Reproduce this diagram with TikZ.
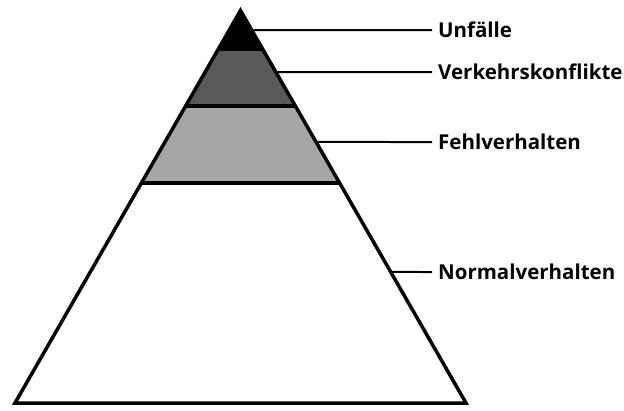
\documentclass[tikz,border=0pt]{standalone}
\usepackage{fontspec}
\setmainfont{Open Sans}
\usetikzlibrary{calc}
\definecolor{darkband}{HTML}{595959}
\definecolor{lightband}{HTML}{A6A6A6}
\tikzset{
  outline/.style={line width=3.5pt, line join=miter},
  bandline/.style={line width=3.5pt},
  leader/.style={line width=2pt},
  lbl/.style={anchor=base west, inner sep=0pt, font=\bfseries\fontsize{20.5}{22}\selectfont}
}
\begin{document}
\begin{tikzpicture}[x=1pt,y=-1pt]
\useasboundingbox (0,0) rectangle (624,410);
\coordinate (A) at (240.5,10.5);
\coordinate (L) at (15,403);
\coordinate (R) at (466,403);
% band boundaries
\coordinate (b1l) at ($(A)!0.0981!(L)$); \coordinate (b1r) at ($(A)!0.0981!(R)$);
\coordinate (b2l) at ($(A)!0.2433!(L)$); \coordinate (b2r) at ($(A)!0.2433!(R)$);
\coordinate (b3l) at ($(A)!0.4395!(L)$); \coordinate (b3r) at ($(A)!0.4395!(R)$);
\fill[black] (A) -- (b1r) -- (b1l) -- cycle;
\fill[darkband] (b1l) -- (b1r) -- (b2r) -- (b2l) -- cycle;
\fill[lightband] (b2l) -- (b2r) -- (b3r) -- (b3l) -- cycle;
\draw[bandline] (b1l) -- (b1r);
\draw[bandline] (b2l) -- (b2r);
\draw[bandline] (b3l) -- (b3r);
\draw[outline] (A) -- (R) -- (L) -- cycle;
% leader start points
\coordinate (e1) at ($(A)!0.0497!(R)$);
\coordinate (e2) at ($(A)!0.1567!(R)$);
\coordinate (e3) at ($(A)!0.3350!(R)$);
\coordinate (e4) at ($(A)!0.6662!(R)$);
\coordinate (t1) at (432,30);
\coordinate (t2) at (432,72);
\coordinate (t3) at (432,142);
\coordinate (t4) at (432,272);
\node[lbl] (n1) at (438,37.5) {Unfälle};
\node[lbl] (n2) at (438,79.5) {Verkehrskonflikte};
\node[lbl] (n3) at (438,149.5) {Fehlverhalten};
\node[lbl] (n4) at (438,279.5) {Normalverhalten};
\draw[leader] (e1) -- (t1);
\draw[leader] (e2) -- (t2);
\draw[leader] (e3) -- (t3);
\draw[leader] (e4) -- (t4);
\end{tikzpicture}
\end{document}
